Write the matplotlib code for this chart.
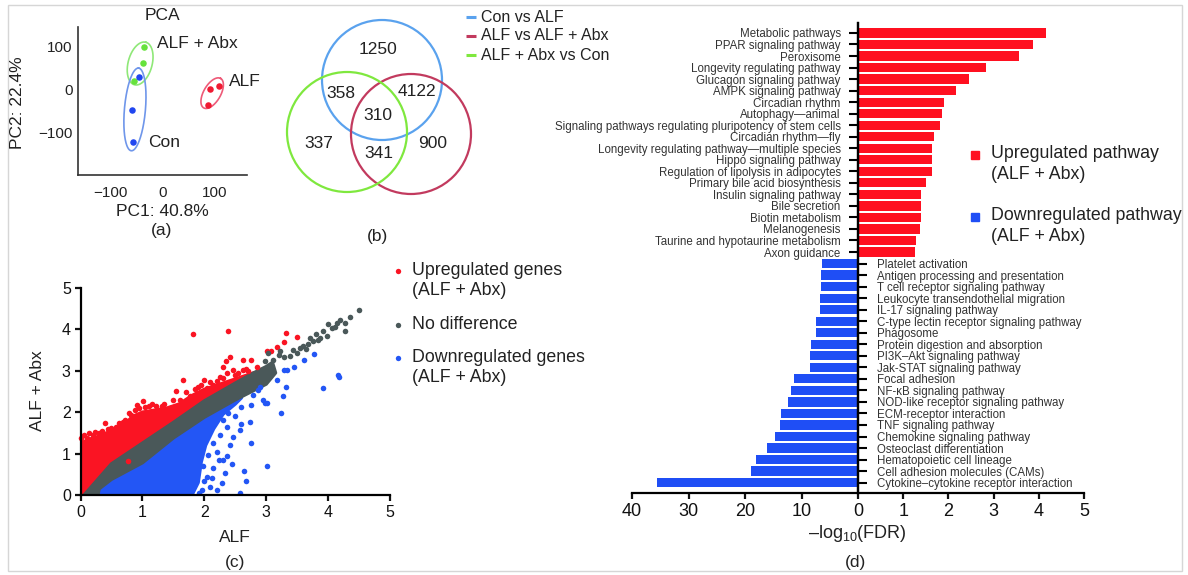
import numpy as np
import matplotlib.pyplot as plt
from matplotlib.patches import Circle, Rectangle

plt.rcParams['font.family'] = ['Liberation Sans', 'DejaVu Sans']
plt.rcParams['mathtext.fontset'] = 'custom'
plt.rcParams['mathtext.rm'] = 'Liberation Sans'

W, H = 1188, 575
fig = plt.figure(figsize=(W / 100, H / 100), dpi=100)


def box(l, t, r, b):
    # pixel box -> figure fraction
    return [l / W, 1 - b / H, (r - l) / W, (b - t) / H]


# ============================================
# DATOS
# ============================================
# (a) PCA
pca_groups = ['ALF + Abx', 'Con', 'ALF']
pca_pc1 = [[-36, -38, -54], [-44, -58, -56], [92, 108, 87]]
pca_pc2 = [[100, 63, 19], [30, -47, -123], [2, 9, -37]]

# (b) Venn
venn_sets = ['Con vs ALF', 'ALF vs ALF + Abx', 'ALF + Abx vs Con']
venn_counts = [1250, 358, 4122, 310, 337, 341, 900]

# (c) scatter: zonas densas (contornos) + puntos sueltos
red_zone_x = [0, 0, 0.15, 0.3, 0.5, 0.7, 0.85, 1.0, 1.2, 1.4, 1.6, 1.8, 2.0, 2.2, 2.4, 2.6, 2.8, 2.9, 2.9, 1.5, 0.3, 0.08]
red_zone_y = [0, 1.25, 1.35, 1.42, 1.55, 1.7, 1.9, 2.0, 2.05, 2.1, 2.2, 2.4, 2.55, 2.65, 2.75, 2.85, 2.95, 2.95, 2.8, 1.5, 0.3, 0]
gray_zone_x = [0.06, 0.5, 1.0, 1.5, 2.0, 2.5, 2.8, 3.0, 3.1, 3.15, 3.0, 2.5, 2.0, 1.5, 1.0, 0.5, 0.3, 0.28]
gray_zone_y = [0, 0.75, 1.25, 1.75, 2.27, 2.7, 2.95, 3.1, 3.2, 2.95, 2.68, 2.3, 1.88, 1.38, 0.78, 0.38, 0.15, 0]
blue_zone_x = [0.24, 1.8, 1.9, 1.95, 2.02, 2.15, 2.3, 2.5, 2.6, 2.5, 2.0, 1.5, 1.0, 0.5]
blue_zone_y = [0, 0, 0.3, 0.8, 1.2, 1.6, 1.95, 2.2, 2.35, 2.35, 1.95, 1.45, 0.85, 0.42]

up_x = [1.82, 2.39, 3.32, 3.50, 3.29, 3.17, 3.01, 3.07, 2.42, 2.35, 2.62, 2.75, 2.63, 2.47, 2.31,
        1.65, 1.99, 1.85, 1.55, 1.01, 0.92, 1.16, 0.39, 0.23, 0.14, 0.0, 0.04, 0.77, 0.68, 0.58,
        0.82, 1.28, 1.44, 1.77, 2.04, 2.14, 2.25, 2.36, 2.68, 2.85, 1.1, 1.35, 1.6, 1.9, 2.2,
        0.3, 0.5, 0.95, 1.5, 2.55, 0.05, 0.1, 0.2, 0.35, 0.45, 0.62, 0.72, 0.78, 0.88, 1.05,
        1.22, 1.32, 1.7, 1.95, 2.1, 2.3, 2.5, 2.7]
up_y = [3.90, 3.97, 3.91, 3.81, 3.69, 3.57, 3.49, 3.49, 3.33, 3.24, 3.25, 3.25, 3.02, 3.02, 3.10,
        2.77, 2.78, 2.56, 2.52, 2.26, 2.18, 2.20, 1.73, 1.53, 1.49, 1.37, 1.25, 0.81, 1.77, 1.65,
        1.94, 2.02, 2.10, 2.38, 2.58, 2.66, 2.86, 2.94, 3.04, 3.10, 2.15, 2.2, 2.3, 2.6, 2.75,
        1.5, 1.62, 2.1, 2.3, 2.95, 1.45, 1.38, 1.46, 1.55, 1.6, 1.75, 1.8, 1.98, 2.06, 2.12,
        2.14, 2.16, 2.5, 2.66, 2.72, 2.82, 2.9, 3.0]

nodiff_x = [3.20, 3.28, 3.38, 3.44, 3.55, 3.65, 3.68, 3.80, 3.76, 3.87, 3.98, 3.92, 4.00, 4.06,
            4.14, 4.20, 4.27, 4.28, 4.35, 4.50, 4.11, 3.11, 3.03, 2.98, 3.22, 3.49, 3.60, 3.71, 3.84]
nodiff_y = [3.39, 3.33, 3.36, 3.51, 3.55, 3.52, 3.65, 3.89, 3.71, 3.79, 3.83, 3.95, 4.14, 4.03,
            4.15, 4.23, 3.95, 4.15, 4.31, 4.48, 4.07, 3.27, 3.44, 3.23, 3.47, 3.43, 3.60, 3.79, 3.75]

down_x = [3.78, 3.61, 3.45, 3.33, 3.32, 3.27, 2.95, 2.98, 3.02, 3.24, 2.75, 2.60, 2.74, 2.60, 2.49,
          2.75, 2.64, 2.68, 3.02, 2.58, 3.91, 4.16, 4.18, 2.31, 2.36, 2.33, 2.28, 2.20, 2.09, 2.14,
          2.06, 2.14, 2.25, 2.36, 2.47, 2.57, 2.39, 2.31, 2.04, 1.98, 1.96, 2.23, 2.87, 2.79, 2.90,
          3.17, 3.29, 1.92, 2.0, 2.12, 2.42, 2.45, 2.2]
down_y = [3.40, 3.27, 3.08, 3.02, 2.60, 2.38, 2.30, 2.22, 2.22, 1.99, 2.18, 2.12, 1.77, 1.72, 1.90,
          1.25, 0.59, 0.35, 0.69, 0.06, 2.58, 2.90, 2.85, 0.85, 0.93, 0.52, 0.28, 0.12, 0.20, 0.65,
          0.97, 1.25, 1.45, 1.65, 1.41, 1.57, 1.98, 1.81, 0.44, 0.69, 0.12, 0.85, 2.54, 2.42, 2.62,
          2.78, 3.02, 0.05, 0.35, 0.4, 1.2, 0.75, 1.05]

# (d) KEGG
up_pathways = ['Metabolic pathways', 'PPAR signaling pathway', 'Peroxisome',
               'Longevity regulating pathway', 'Glucagon signaling pathway', 'AMPK signaling pathway',
               'Circadian rhythm', 'Autophagy\u2014animal',
               'Signaling pathways regulating pluripotency of stem cells', 'Circadian rhythm\u2014fly',
               'Longevity regulating pathway\u2014multiple species', 'Hippo signaling pathway',
               'Regulation of lipolysis in adipocytes', 'Primary bile acid biosynthesis',
               'Insulin signaling pathway', 'Bile secretion', 'Biotin metabolism', 'Melanogenesis',
               'Taurine and hypotaurine metabolism', 'Axon guidance']
up_fdr = [4.15, 3.88, 3.56, 2.83, 2.45, 2.17, 1.90, 1.85, 1.81, 1.69,
          1.64, 1.64, 1.64, 1.50, 1.40, 1.39, 1.39, 1.37, 1.29, 1.26]
down_pathways = ['Platelet activation', 'Antigen processing and presentation',
                 'T cell receptor signaling pathway', 'Leukocyte transendothelial migration',
                 'IL-17 signaling pathway', 'C-type lectin receptor signaling pathway', 'Phagosome',
                 'Protein digestion and absorption', 'PI3K\u2013Akt signaling pathway',
                 'Jak-STAT signaling pathway', 'Focal adhesion', 'NF-\u03baB signaling pathway',
                 'NOD-like receptor signaling pathway', 'ECM-receptor interaction',
                 'TNF signaling pathway', 'Chemokine signaling pathway', 'Osteoclast differentiation',
                 'Hematopoietic cell lineage', 'Cell adhesion molecules (CAMs)',
                 'Cytokine\u2013cytokine receptor interaction']
down_fdr = [6.3, 6.6, 6.6, 6.8, 6.8, 7.4, 7.4, 8.4, 8.5, 8.5,
            11.4, 11.9, 12.4, 13.6, 13.8, 14.7, 16.1, 18.1, 19.0, 35.5]

RED = '#fa1423'
GRAY = '#4a5859'
BLUE = '#2356f5'

# ============================================
# (a) PCA
# ============================================
axa = fig.add_axes(box(78, 27, 246.7, 175))
axa.set_xlim(-162, 162)
axa.set_ylim(-200, 146)
pt_cols = ['#66e23c', '#2046f0', '#f01a32']
ell_cols = ['#8fe878', '#6f96ea', '#ee5a78']
ell_a = [22, 41.5, 17]
ell_b = [12, 10.5, 8.5]
ell_ang = [75, 85, 60]
ppx = 168.7 / 324
ppy = 148 / 346
t = np.linspace(0, 2 * np.pi, 200)
for i in range(3):
    axa.scatter(pca_pc1[i], pca_pc2[i], s=22, color=pt_cols[i], zorder=3, linewidths=0)
    cx, cy = np.mean(pca_pc1[i]), np.mean(pca_pc2[i])
    th = np.radians(ell_ang[i])
    dx = ell_a[i] * np.cos(t) * np.cos(th) - ell_b[i] * np.sin(t) * np.sin(th)
    dy = ell_a[i] * np.cos(t) * np.sin(th) + ell_b[i] * np.sin(t) * np.cos(th)
    axa.plot(cx + dx / ppx, cy + dy / ppy, color=ell_cols[i], lw=1.2, zorder=2)
axa.text(-10, 108, 'ALF + Abx', fontsize=12.5, va='center', color='#222')
axa.text(128, 19, 'ALF', fontsize=12.5, va='center', color='#222')
axa.text(-27, -124, 'Con', fontsize=12.5, va='center', color='#222')
for s in ['top', 'right']:
    axa.spines[s].set_visible(False)
for s in ['left', 'bottom']:
    axa.spines[s].set_linewidth(1.2)
    axa.spines[s].set_color('#333')
axa.set_xticks([-100, 0, 100])
axa.set_yticks([-100, 0, 100])
axa.tick_params(axis='both', length=0, labelsize=11, colors='#222')
axa.tick_params(axis='x', pad=8)
axa.tick_params(axis='y', pad=4)
axa.set_facecolor('none')

# ============================================
# (c) scatter
# ============================================
axc = fig.add_axes(box(80.5, 288, 390, 495))
axc.fill(red_zone_x, red_zone_y, color=RED, lw=2.5, joinstyle='round', zorder=1)
axc.fill(blue_zone_x, blue_zone_y, color=BLUE, lw=2.5, joinstyle='round', zorder=1)
axc.fill(gray_zone_x, gray_zone_y, color=GRAY, lw=2.5, joinstyle='round', zorder=2)
axc.scatter(up_x, up_y, s=16, color=RED, linewidths=0, zorder=3, clip_on=False)
axc.scatter(nodiff_x, nodiff_y, s=16, color=GRAY, linewidths=0, zorder=3)
axc.scatter(down_x, down_y, s=16, color=BLUE, linewidths=0, zorder=3)
axc.set_xlim(0, 5)
axc.set_ylim(0, 5)
axc.set_xticks(range(6))
axc.set_yticks(range(6))
for s in ['top', 'right']:
    axc.spines[s].set_visible(False)
for s in ['left', 'bottom']:
    axc.spines[s].set_linewidth(1.6)
    axc.spines[s].set_zorder(4)
axc.tick_params(axis='both', direction='out', length=4.5, width=1.6, labelsize=11.5, pad=2.5, colors='#111')
axc.set_facecolor('none')

# ============================================
# (d) KEGG barras
# ============================================
def fwd(x):
    x = np.asarray(x, dtype=float)
    return np.where(x < 0, x / 8.0, x)


def inv(x):
    x = np.asarray(x, dtype=float)
    return np.where(x < 0, x * 8.0, x)


axd = fig.add_axes(box(632, 22.7, 1084, 493))
axd.set_xscale('function', functions=(fwd, inv))
n_up = len(up_pathways)
rows_up = np.arange(n_up)
rows_down = np.arange(n_up, n_up + len(down_pathways))
axd.barh(rows_up, up_fdr, height=0.8, color='#ff1020', zorder=2)
axd.barh(rows_down, -np.array(down_fdr), height=0.8, color='#1f4ef5', zorder=2)
axd.set_xlim(-40, 5)
ylim_d = (39.9, -0.89)
axd.set_ylim(*ylim_d)
axd.set_xticks([-40, -30, -20, -10, 0, 1, 2, 3, 4, 5])
axd.set_xticklabels(['40', '30', '20', '10', '0', '1', '2', '3', '4', '5'])
axd.set_yticks(rows_up)
axd.set_yticklabels(up_pathways)
axd.spines['left'].set_position(('data', 0))
for s in ['top', 'right']:
    axd.spines[s].set_visible(False)
for s in ['left', 'bottom']:
    axd.spines[s].set_linewidth(1.6)
axd.tick_params(axis='x', direction='out', length=4.5, width=1.6, labelsize=13, pad=3, colors='#111')
axd.tick_params(axis='y', direction='out', length=6.5, width=1.5, labelsize=8.3, pad=6, labelcolor='#333')
axd.set_facecolor('none')

axd2 = axd.twinx()
axd2.set_ylim(*ylim_d)
axd2.set_yticks(rows_down)
axd2.set_yticklabels(down_pathways)
axd2.spines['right'].set_position(('data', 0))
for s in ['top', 'left', 'bottom']:
    axd2.spines[s].set_visible(False)
axd2.spines['right'].set_linewidth(1.6)
axd2.tick_params(axis='y', direction='out', length=6.5, width=1.5, labelsize=8.3, pad=7, labelcolor='#333')

# ============================================
# capa de textos, Venn y leyendas (coordenadas en pixeles)
# ============================================
ov = fig.add_axes([0, 0, 1, 1])
ov.set_xlim(0, W)
ov.set_ylim(H, 0)
ov.axis('off')

ov.add_patch(Rectangle((8, 5), 1174, 566, fill=False, ec='#d6d6d6', lw=1))

txt = dict(ha='center', va='center', color='#222')
ov.text(162, 15, 'PCA', fontsize=12.5, **txt)
ov.text(18, 103, 'PC2: 22.4%', fontsize=12.5, rotation=90, **txt)
ov.text(162, 211, 'PC1: 40.8%', fontsize=12.5, **txt)
ov.text(162, 231, '(a)', fontsize=12.5, **txt)

# Venn
venn_cols = ['#5aa2ee', '#c23a5e', '#7fe83e']
venn_centers = [(382, 80), (411, 134), (347, 132)]
for c, col in zip(venn_centers, venn_cols):
    ov.add_patch(Circle(c, 60, fill=False, ec=col, lw=1.6))
venn_pos = [(378, 50), (341, 93), (417, 91), (378, 115), (319, 143), (379, 154), (433, 143)]
for n, p in zip(venn_counts, venn_pos):
    ov.text(p[0], p[1], str(n), fontsize=12.5, **txt)
for i, (name, col) in enumerate(zip(venn_sets, venn_cols)):
    y = 17 + i * 19
    ov.plot([466, 476], [y, y], color=col, lw=2.2, solid_capstyle='butt')
    ov.text(481, y, name, fontsize=11.5, ha='left', va='center', color='#222')
ov.text(378, 236, '(b)', fontsize=12.5, **txt)

# (c) leyenda y ejes
ov.text(37, 391, 'ALF + Abx', fontsize=12.5, rotation=90, **txt)
ov.text(235, 537, 'ALF', fontsize=12.5, **txt)
ov.text(235, 562, '(c)', fontsize=12.5, **txt)
leg_c = [('Upregulated genes\n(ALF + Abx)', RED, 271), ('No difference', GRAY, 325),
         ('Downregulated genes\n(ALF + Abx)', BLUE, 358)]
for lab, col, y in leg_c:
    ov.scatter([398], [y], s=15, color=col, linewidths=0)
    ov.text(412, y - 9, lab, fontsize=12.8, ha='left', va='top', color='#222', linespacing=1.25)

# (d) leyenda y ejes
ov.text(857, 533, '\u2013log$_{\\mathregular{10}}$(FDR)', fontsize=13, **txt)
ov.text(855, 562, '(d)', fontsize=12.5, **txt)
leg_d = [('Upregulated pathway\n(ALF + Abx)', '#ff1020', 155), ('Downregulated pathway\n(ALF + Abx)', '#1f4ef5', 217)]
for lab, col, y in leg_d:
    ov.add_patch(Rectangle((971, y - 4), 8, 8, color=col))
    ov.text(991, y - 10, lab, fontsize=12.8, ha='left', va='top', color='#222', linespacing=1.3)

fig.savefig('out.png', dpi=100)
